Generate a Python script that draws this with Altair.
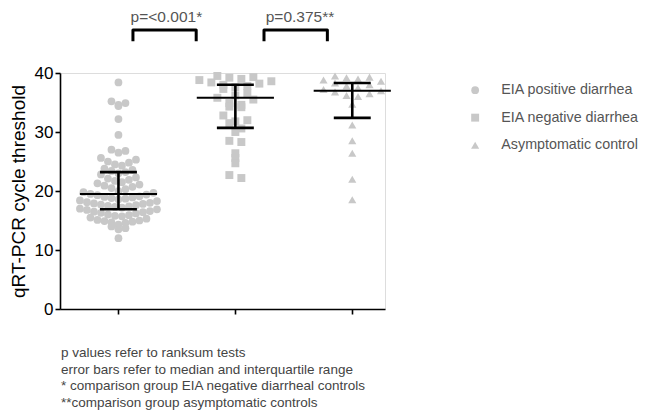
import math
import altair as alt
import pandas as pd

# ---------------- data ----------------
groups = ["EIA positive diarrhea", "EIA negative diarrhea", "Asymptomatic control"]

eia_positive = [
    38.4,
    35.2, 34.9, 34.6, 34.4,
    32.2,
    29.5,
    27.0, 26.8, 26.5,
    25.6, 25.3, 25.0, 24.8, 24.5, 24.3,
    23.8, 23.6, 23.4, 23.2, 23.0, 22.8,
    22.3, 22.1, 21.9, 21.7, 21.5, 21.3, 21.1, 20.9, 20.7, 20.5, 20.3,
    20.0, 19.8, 19.7, 19.5, 19.4, 19.3, 19.1, 19.0, 18.9, 18.8, 18.7, 18.6,
    18.4, 18.3, 18.1, 18.0, 17.9, 17.8, 17.7, 17.6, 17.5, 17.4, 17.3, 17.2,
    17.0, 16.9, 16.8, 16.6, 16.5, 16.4, 16.3, 16.2, 16.0, 15.9, 15.8, 15.7,
    15.5, 15.3, 15.1, 15.0, 14.9, 14.8, 14.7, 14.6,
    14.3, 14.0, 13.7, 13.5,
    12.0,
]
eia_negative = [
    39.5, 39.3, 39.2, 39.0, 38.8, 38.6, 38.4, 38.2, 38.0, 37.8, 37.6, 37.3,
    36.6, 36.2, 35.8, 35.5,
    34.9, 34.6, 34.3, 34.2,
    32.8, 32.0, 31.8, 31.5,
    30.6, 30.0,
    28.5, 28.3,
    26.4, 25.6, 24.7,
    22.7, 22.2,
]
asymptomatic = [
    39.5, 39.3, 39.2, 39.0, 38.8, 38.6,
    38.3, 38.0, 37.8, 37.5, 37.2, 37.0, 36.8, 36.5, 36.2, 36.0,
    34.7, 31.2, 28.5, 26.4, 22.0, 18.5,
]
medians = [19.5, 35.8, 37.0]
q1 = [16.9, 30.7, 32.4]
q3 = [23.2, 38.0, 38.3]
p_labels = ["p=<0.001*", "p=0.375**"]
footnotes = [
    "p values refer to ranksum tests",
    "error bars refer to median and interquartile range",
    "* comparison group EIA negative diarrheal controls",
    "**comparison group asymptomatic controls",
]

# ---------------- layout constants ----------------
W, H = 325, 236
XDOM = [0.5, 3.28]
YDOM = [0, 40]
PX_X = W / (XDOM[1] - XDOM[0])
PX_Y = H / (YDOM[1] - YDOM[0])
GRAY = "#c8c8c8"
FONT = "Liberation Sans"


def scatter_offsets(values, bin_h, origin, spacing):
    """Column-scatter layout: values are binned, points in a bin are set
    side by side (lowest in the middle), giving GraphPad-like arcs."""
    bins = {}
    for i, v in enumerate(values):
        bins.setdefault(math.floor((v - origin) / bin_h), []).append(i)
    offs = [0.0] * len(values)
    for idx in bins.values():
        idx.sort(key=lambda i: values[i])
        n = len(idx)
        if n % 2:
            slots = [0.0]
            k = 1
            while len(slots) < n:
                slots += [k, -k]
                k += 1
        else:
            slots = []
            k = 0.5
            while len(slots) < n:
                slots += [k, -k]
                k += 1
        for j, i in enumerate(idx):
            offs[i] = slots[j] * spacing / PX_X
    return offs


rows = []
layout = [(eia_positive, 1.45, 15.6, 7.0),
          (eia_negative, 1.4, 22.0, 12.0),
          (asymptomatic, 1.4, 22.0, 11.5)]
for gi, (vals, bh, org, sp) in enumerate(layout):
    for v, o in zip(vals, scatter_offsets(vals, bh, org, sp)):
        rows.append({"group": groups[gi], "x": gi + 1 + o, "ct": v})
pts = pd.DataFrame(rows)

stats = pd.DataFrame({
    "pos": [1, 2, 3], "med": medians, "q1": q1, "q3": q3,
})
stats["cl"] = stats["pos"] - 0.158
stats["cr"] = stats["pos"] + 0.158
stats["ml"] = stats["pos"] - 0.33
stats["mr"] = stats["pos"] + 0.33

xscale = alt.Scale(domain=XDOM, nice=False, zero=False)
yscale = alt.Scale(domain=YDOM, nice=False)

xaxis = alt.Axis(values=[1, 2, 3], labels=False, title=None, grid=False,
                 domainColor="black", domainWidth=1.6, tickColor="black",
                 tickWidth=1.6, tickSize=5)
yaxis = alt.Axis(values=[0, 10, 20, 30, 40], title="qRT-PCR cycle threshold",
                 grid=False, domainColor="black", domainWidth=1.6,
                 tickColor="black", tickWidth=1.6, tickSize=5,
                 labelFontSize=17, labelColor="black", labelFont=FONT,
                 labelPadding=2, titleFontSize=19, titleFont=FONT,
                 titleColor="black", titleFontWeight="normal", titlePadding=6)

legend = alt.Legend(title=None, orient="none", legendX=408, legendY=10,
                    symbolFillColor=GRAY, symbolStrokeWidth=0, labelFontSize=14.3,
                    labelColor="#555555", labelFont=FONT,
                    labelOffset=19, rowPadding=12.5, padding=0)

points = alt.Chart(pts).mark_point(filled=True, opacity=1, strokeWidth=0).encode(
    x=alt.X("x:Q", scale=xscale, axis=xaxis),
    y=alt.Y("ct:Q", scale=yscale, axis=yaxis),
    shape=alt.Shape("group:N", sort=groups,
                    scale=alt.Scale(domain=groups, range=["circle", "square", "triangle-up"]),
                    legend=legend),
    size=alt.Size("group:N", sort=groups,
                  scale=alt.Scale(domain=groups, range=[60, 66, 80]), legend=legend),
    color=alt.value(GRAY),
)

bar_v = alt.Chart(stats).mark_rule(color="black", strokeWidth=2.6).encode(
    x=alt.X("pos:Q", scale=xscale), y=alt.Y("q1:Q", scale=yscale), y2="q3:Q")
cap_lo = alt.Chart(stats).mark_rule(color="black", strokeWidth=2.6).encode(
    x=alt.X("cl:Q", scale=xscale), x2="cr:Q", y=alt.Y("q1:Q", scale=yscale))
cap_hi = alt.Chart(stats).mark_rule(color="black", strokeWidth=2.6).encode(
    x=alt.X("cl:Q", scale=xscale), x2="cr:Q", y=alt.Y("q3:Q", scale=yscale))
med = alt.Chart(stats).mark_rule(color="black", strokeWidth=2.0).encode(
    x=alt.X("ml:Q", scale=xscale), x2="mr:Q", y=alt.Y("med:Q", scale=yscale))

# comparison brackets between neighbouring groups
br_rows = []
for b, (left, right) in enumerate([(1.124, 1.665), (2.245, 2.787)]):
    for k, (xx, yy) in enumerate([(left, 45.4), (left, 47.3), (right, 47.3), (right, 45.4)]):
        br_rows.append({"b": b, "k": k, "x": xx, "y": yy})
brackets = alt.Chart(pd.DataFrame(br_rows)).mark_line(
    color="black", strokeWidth=3, strokeJoin="round", clip=False).encode(
    x=alt.X("x:Q", scale=xscale), y=alt.Y("y:Q", scale=yscale),
    detail="b:N", order="k:Q")

ptext = alt.Chart(pd.DataFrame({"t": p_labels, "x": [1.41, 2.553], "y": [49.5, 49.5]})).mark_text(
    fontSize=15.5, font=FONT, color="#555555", baseline="middle", align="center", clip=False).encode(
    x=alt.X("x:Q", scale=xscale), y=alt.Y("y:Q", scale=yscale), text="t:N")

notes = alt.Chart(pd.DataFrame({"t": footnotes, "i": list(range(len(footnotes)))})).transform_calculate(
    py="280 + datum.i * 16.7").mark_text(
    fontSize=13.5, font=FONT, color="#444444", align="left", baseline="middle").encode(
    x=alt.value(1), y=alt.Y("py:Q", scale=None), text="t:N")

chart = alt.layer(points, bar_v, cap_lo, cap_hi, med, brackets, ptext, notes).properties(
    width=W, height=H,
    autosize=alt.AutoSizeParams(type="none"),
    padding={"left": 52, "top": 65, "right": 257, "bottom": 120},
).configure_view(stroke=None).configure(font=FONT)

chart.save("out.html", embed_options={"renderer": "svg", "actions": False})
